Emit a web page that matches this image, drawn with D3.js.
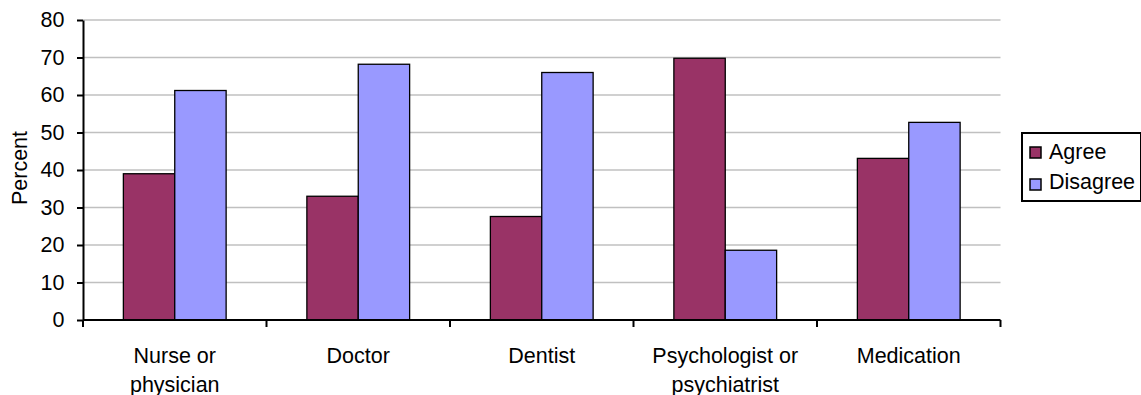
<!DOCTYPE html>
<html>
<head>
<meta charset="utf-8">
<script src="https://cdn.jsdelivr.net/npm/d3@7"></script>
<style>
  html, body { margin: 0; padding: 0; background: #fff; }
  text { font-family: "Liberation Sans", Arial, sans-serif; fill: #000; }
</style>
</head>
<body>
<svg id="chart" width="1141" height="395"></svg>
<script>
// Survey results: share of respondents agreeing / disagreeing, per provider
const categories = [["Nurse or", "physician"], ["Doctor"], ["Dentist"], ["Psychologist or", "psychiatrist"], ["Medication"]];
const seriesNames = ["Agree", "Disagree"];
const agree = [39, 33, 27.6, 69.8, 43.1];
const disagree = [61.2, 68.2, 66, 18.6, 52.7];
const yTicks = [0, 10, 20, 30, 40, 50, 60, 70, 80];
const colors = ["#993366", "#9999FF"];

const FONT = 21.5;
const svg = d3.select("#chart");
const margin = { left: 83, right: 140.5, top: 20, bottom: 75 };
const W = 1141, H = 395;
const plotW = W - margin.left - margin.right;
const plotH = H - margin.top - margin.bottom;

const keys = categories.map((c, i) => i);
const x0 = d3.scaleBand().domain(keys).range([margin.left, margin.left + plotW]).padding(0);
const gap = x0.bandwidth() * 0.22;
const x1 = d3.scaleBand().domain(seriesNames).range([gap, x0.bandwidth() - gap]).padding(0);
const y = d3.scaleLinear().domain([0, 80]).range([margin.top + plotH, margin.top]);

const rows = keys.map(i => ({ i, values: [agree[i], disagree[i]] }));

// horizontal gridlines
svg.append("g").selectAll("line").data(yTicks.filter(t => t > 0)).join("line")
  .attr("x1", margin.left).attr("x2", margin.left + plotW)
  .attr("y1", d => y(d)).attr("y2", d => y(d))
  .attr("stroke", "#c0c0c0").attr("stroke-width", 1.3);

// bars
svg.append("g").selectAll("g").data(rows).join("g")
  .attr("transform", d => `translate(${x0(d.i)},0)`)
  .selectAll("rect").data(d => d.values.map((v, k) => ({ k, v }))).join("rect")
  .attr("x", d => x1(seriesNames[d.k]))
  .attr("width", x1.bandwidth())
  .attr("y", d => y(d.v))
  .attr("height", d => y(0) - y(d.v))
  .attr("fill", d => colors[d.k])
  .attr("stroke", "#000").attr("stroke-width", 1.3);

// y axis
const yAxis = d3.axisLeft(y).tickValues(yTicks).tickSize(6).tickPadding(12.5).tickSizeOuter(0);
const gy = svg.append("g").attr("transform", `translate(${margin.left},0)`).call(yAxis);
gy.select(".domain").attr("stroke", "#000").attr("stroke-width", 2);
gy.selectAll(".tick line").attr("stroke", "#000").attr("stroke-width", 2);
gy.selectAll(".tick text").attr("font-size", FONT).attr("font-family", "Liberation Sans, Arial, sans-serif").attr("fill", "#000");

// x axis with ticks at band boundaries
const bounds = keys.map(i => x0(i)).concat([margin.left + plotW]);
const gx = svg.append("g");
gx.append("line")
  .attr("x1", margin.left).attr("x2", margin.left + plotW)
  .attr("y1", y(0)).attr("y2", y(0))
  .attr("stroke", "#000").attr("stroke-width", 2);
gx.selectAll("line.tk").data(bounds).join("line").attr("class", "tk")
  .attr("x1", d => d).attr("x2", d => d)
  .attr("y1", y(0)).attr("y2", y(0) + 7)
  .attr("stroke", "#000").attr("stroke-width", 2);
gx.selectAll("text").data(rows).join("text")
  .attr("x", d => x0(d.i) + x0.bandwidth() / 2)
  .attr("y", y(0) + 43)
  .attr("text-anchor", "middle")
  .attr("font-size", FONT)
  .selectAll("tspan").data(d => categories[d.i]).join("tspan")
  .attr("x", function () { return this.parentNode.getAttribute("x"); })
  .attr("dy", (d, j) => j === 0 ? 0 : 29)
  .text(d => d);

// y axis title
svg.append("text")
  .attr("transform", `translate(26.5,${margin.top + plotH / 2 - 2}) rotate(-90)`)
  .attr("text-anchor", "middle")
  .attr("font-size", FONT)
  .text("Percent");

// legend
const lg = svg.append("g").attr("transform", "translate(1022,133)");
lg.append("rect").attr("x", 0).attr("y", 0).attr("width", 119).attr("height", 68)
  .attr("fill", "#fff").attr("stroke", "#000").attr("stroke-width", 2);
seriesNames.forEach((name, k) => {
  lg.append("rect").attr("x", 8).attr("y", 14 + k * 32).attr("width", 11).attr("height", 11)
    .attr("fill", colors[k]).attr("stroke", "#000").attr("stroke-width", 1.5);
  lg.append("text").attr("x", 27).attr("y", 25.5 + k * 30.5).attr("font-size", FONT).text(name);
});
</script>
</body>
</html>
